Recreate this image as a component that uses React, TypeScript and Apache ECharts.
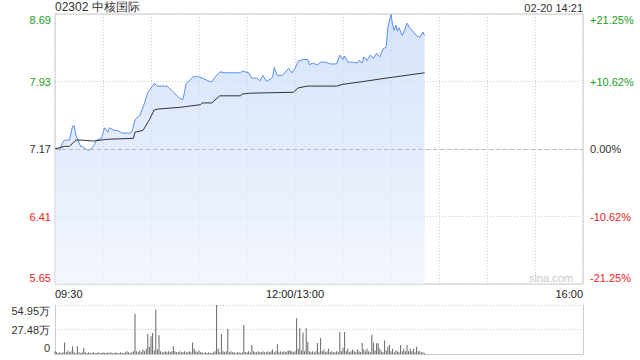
import React, { useEffect, useRef } from "react";
import * as echarts from "echarts";

const prevClose = 7.17;
const titleText = "02302 中核国际";
const stampText = "02-20 14:21";
const watermark = "sina.com";
const priceTicks = ["5.65", "6.41", "7.17", "7.93", "8.69"];
const pctTicks = ["-21.25%", "-10.62%", "0.00%", "+10.62%", "+21.25%"];
const volTicks = ["0", "27.48万", "54.95万"];
const timeLabels: Record<number, string> = { 0: "09:30", 150: "12:00/13:00", 330: "16:00" };

// minutes since 09:30 (lunch break removed)
const priceMinutes = [
  0, 1, 3, 5, 6, 9, 11, 12, 13, 16, 17, 20, 22, 24, 26, 29, 31, 33, 34, 37,
  39, 42, 47, 48, 50, 53, 56, 58, 61, 62, 64, 70, 73, 78, 80, 82, 86, 89, 92, 97,
  98, 100, 103, 107, 116, 117, 121, 123, 126, 128, 130, 132, 133, 136, 137, 139, 142, 146, 148, 150,
  152, 155, 158, 159, 161, 164, 166, 169, 172, 176, 178, 180, 181, 183, 186, 189, 190, 192, 193, 195,
  197, 199, 201, 203, 205, 207, 208, 210, 211, 212, 213, 214, 215, 217, 218, 220, 222, 224, 226, 228,
  230, 231,
];
const prices = [
  7.17, 7.18, 7.16, 7.25, 7.27, 7.27, 7.43, 7.43, 7.33, 7.2, 7.2, 7.16, 7.16, 7.2, 7.27, 7.29, 7.41, 7.36, 7.41, 7.38,
  7.38, 7.35, 7.35, 7.36, 7.5, 7.55, 7.69, 7.81, 7.88, 7.91, 7.88, 7.88, 7.83, 7.74, 7.73, 7.91, 7.98, 7.99, 7.97, 7.93,
  7.93, 7.98, 8.04, 8.03, 8.03, 8.05, 8.03, 7.97, 7.97, 7.94, 8.0, 7.94, 7.94, 7.98, 8.09, 8.0, 8.0, 8.08, 8.03, 8.08,
  8.16, 8.18, 8.18, 8.12, 8.14, 8.12, 8.15, 8.15, 8.13, 8.13, 8.23, 8.18, 8.22, 8.15, 8.15, 8.14, 8.17, 8.14, 8.21, 8.17,
  8.23, 8.19, 8.25, 8.21, 8.3, 8.32, 8.54, 8.69, 8.57, 8.51, 8.57, 8.5, 8.54, 8.45, 8.49, 8.59, 8.53, 8.49, 8.45, 8.43,
  8.49, 8.45,
];

const avgMinutes = [0, 6, 9, 13, 17, 24, 33, 49, 50, 55, 59, 62, 64, 78, 91, 92, 98, 103, 116, 117, 122, 149, 152, 158, 176, 180, 192, 207, 211, 231];
const avgPrices = [7.17, 7.2, 7.2, 7.27, 7.27, 7.26, 7.28, 7.29, 7.36, 7.38, 7.5, 7.61, 7.62, 7.64, 7.67, 7.69, 7.69, 7.77, 7.77, 7.79, 7.8, 7.81, 7.86, 7.88, 7.88, 7.9, 7.93, 7.97, 7.98, 8.03];

// volume per minute, in 万
const volumes = [
  3, 2, 1, 2, 1, 2, 13, 2, 4, 2, 3, 8.6, 2, 1, 8.6, 2, 1, 2, 6.7, 2,
  1, 2, 1, 1, 2, 1, 1, 2, 1, 1, 2, 1, 1, 2, 1, 2, 1, 1, 2, 1,
  1, 2, 1, 1, 2, 3, 2, 1, 2, 3, 45, 3, 2, 4, 2, 5, 3, 6, 22.4, 8,
  19.8, 23.5, 4, 50, 5, 21, 3, 2, 2, 3, 2, 3, 2, 3, 8.6, 3, 2, 2, 3, 2,
  2, 3, 2, 2, 3, 2, 13, 6, 3, 2, 4, 2, 2, 1, 2, 1, 2, 1, 1, 2,
  3, 54.95, 6, 2, 22.5, 3, 2, 3, 28, 2, 3, 2, 2, 1, 2, 2, 1, 2, 32.5, 2,
  2, 3, 2, 10, 3, 2, 2, 3, 2, 2, 3, 2, 2, 3, 2, 3, 5, 2, 3, 11,
  2, 3, 2, 3, 2, 3, 4, 4, 3, 2, 3, 40, 6, 29, 4, 24, 3, 29, 13.4, 3,
  2, 3, 2, 3, 12.3, 2, 18, 3, 5, 2, 3, 6, 2, 3, 2, 2, 3, 2, 24.6, 3,
  7, 24.6, 3, 6, 2, 3, 5, 3, 2, 5, 3, 2, 12.3, 5, 3, 6, 3, 2, 21.7, 13,
  4, 12, 12, 6, 3, 2, 15, 4, 8, 10, 3, 6, 2, 4, 3, 2, 10, 3, 6, 3,
  10, 3, 6, 3, 6, 2, 8, 3, 3, 2, 2, 1,
];

const GREEN = "#1a9e1a";
const RED = "#ee2222";
const DARK = "#333333";
const FONT = "'Liberation Sans', Arial, sans-serif";
const PCT_MAX = 21.25;
const PCT_STEP = 10.625;
const VOL_MAX = 54.95;

const toPct = (p: number) => (p / prevClose - 1) * 100;

const tickRich = () => {
  const mk = (color: string, pos: number) => ({
    color,
    fontSize: 11,
    fontFamily: FONT,
    padding: pos === 1 ? [12, 0, 0, 0] : pos === -1 ? [0, 0, 12, 0] : [0, 0, 0, 0],
  });
  return {
    k0: mk(RED, -1),
    k1: mk(RED, 0),
    k2: mk(DARK, 0),
    k3: mk(GREEN, 0),
    k4: mk(GREEN, 1),
  };
};

export default function App() {
  const ref = useRef<HTMLDivElement>(null);
  useEffect(() => {
    if (!ref.current) return;
    const chart = echarts.init(ref.current, null, { renderer: "svg" });
    const dotted = { color: "#cccccc", type: [1, 2] as any, width: 1 };
    const idxOf = (v: number) => Math.round(v / PCT_STEP) + 2;
    chart.setOption({
      animation: false,
      textStyle: { fontFamily: FONT },
      grid: [
        { left: 55, right: 57, top: 14, height: 270, show: true, borderColor: "#cccccc", borderWidth: 1, backgroundColor: "transparent" },
        { left: 55, right: 57, top: 305, height: 49 },
      ],
      xAxis: [
        {
          gridIndex: 0,
          type: "value",
          min: 0,
          max: 330,
          interval: 30,
          axisLine: { show: false },
          axisTick: { show: false },
          splitLine: { show: true, lineStyle: dotted },
          axisLabel: {
            margin: 4,
            fontSize: 11,
            color: "#222",
            fontFamily: FONT,
            formatter: (v: number) => timeLabels[Math.round(v)] ?? "",
            alignMinLabel: "left",
            alignMaxLabel: "right",
            showMinLabel: true,
            showMaxLabel: true,
          },
        },
        {
          gridIndex: 1,
          type: "value",
          min: 0,
          max: 330,
          axisLine: { show: true, lineStyle: { color: "#cccccc" } },
          axisTick: { show: false },
          axisLabel: { show: false },
          splitLine: { show: false },
        },
      ],
      yAxis: [
        {
          gridIndex: 0,
          type: "value",
          min: -PCT_MAX,
          max: PCT_MAX,
          interval: PCT_STEP,
          position: "left",
          axisLine: { show: false },
          axisTick: { show: false },
          splitLine: { show: true, lineStyle: dotted },
          axisLabel: {
            margin: 4,
            formatter: (v: number) => {
              const i = idxOf(v);
              return `{k${i}|${priceTicks[i]}}`;
            },
            rich: tickRich(),
          },
        },
        {
          gridIndex: 0,
          type: "value",
          min: -PCT_MAX,
          max: PCT_MAX,
          interval: PCT_STEP,
          position: "right",
          axisLine: { show: false },
          axisTick: { show: false },
          splitLine: { show: false },
          axisLabel: {
            margin: 7,
            formatter: (v: number) => {
              const i = idxOf(v);
              return `{k${i}|${pctTicks[i]}}`;
            },
            rich: tickRich(),
          },
        },
        {
          gridIndex: 1,
          type: "value",
          min: 0,
          max: VOL_MAX,
          interval: VOL_MAX / 2,
          position: "left",
          axisLine: { show: true, lineStyle: { color: "#cccccc" } },
          axisTick: { show: false },
          splitLine: { show: true, lineStyle: dotted },
          axisLabel: {
            margin: 5,
            formatter: (v: number) => {
              const i = Math.round(v / (VOL_MAX / 2));
              const key = i === 0 ? "b" : i === 2 ? "t" : "m";
              return `{${key}|${volTicks[i]}}`;
            },
            rich: {
              t: { color: DARK, fontSize: 11, fontFamily: FONT, padding: [12, 0, 0, 0] },
              m: { color: DARK, fontSize: 11, fontFamily: FONT },
              b: { color: DARK, fontSize: 11, fontFamily: FONT, padding: [0, 0, 12, 0] },
            },
          },
        },
        {
          gridIndex: 1,
          type: "value",
          min: 0,
          max: VOL_MAX,
          position: "right",
          axisLine: { show: true, lineStyle: { color: "#cccccc" } },
          axisTick: { show: false },
          axisLabel: { show: false },
          splitLine: { show: false },
        },
      ],
      series: [
        {
          type: "line",
          xAxisIndex: 0,
          yAxisIndex: 0,
          data: priceMinutes.map((m, i) => [m, toPct(prices[i])]),
          showSymbol: false,
          symbol: "none",
          lineStyle: { color: "#5a8ef0", width: 1 },
          areaStyle: {
            origin: "start",
            color: new echarts.graphic.LinearGradient(0, 0, 0, 1, [
              { offset: 0, color: "#c3d7f8" },
              { offset: 1, color: "#eef3fd" },
            ]),
          },
          markLine: {
            silent: true,
            symbol: "none",
            label: { show: false },
            lineStyle: { color: "#bbbbbb", type: [4, 3], width: 1 },
            data: [{ yAxis: 0 }],
          },
          z: 2,
        },
        {
          type: "line",
          xAxisIndex: 0,
          yAxisIndex: 0,
          data: avgMinutes.map((m, i) => [m, toPct(avgPrices[i])]),
          showSymbol: false,
          symbol: "none",
          lineStyle: { color: "#333333", width: 1 },
          z: 3,
        },
        {
          type: "bar",
          xAxisIndex: 1,
          yAxisIndex: 2,
          data: volumes.map((v, i) => [i, v]),
          barWidth: 1,
          itemStyle: { color: "#666666" },
        },
      ],
      graphic: [
        { type: "text", left: 55, top: 1, style: { text: titleText, fontSize: 12, fill: "#333", fontFamily: FONT } },
        { type: "text", right: 57, top: 2, style: { text: stampText, fontSize: 11, fill: "#333", fontFamily: FONT } },
        { type: "text", right: 67, top: 272, style: { text: watermark, fontSize: 11, fill: "#c8c8c8", fontFamily: FONT } },
      ],
    });
    return () => chart.dispose();
  }, []);
  return <div ref={ref} style={{ position: "absolute", left: 0, top: 0, width: 640, height: 360 }} />;
}
